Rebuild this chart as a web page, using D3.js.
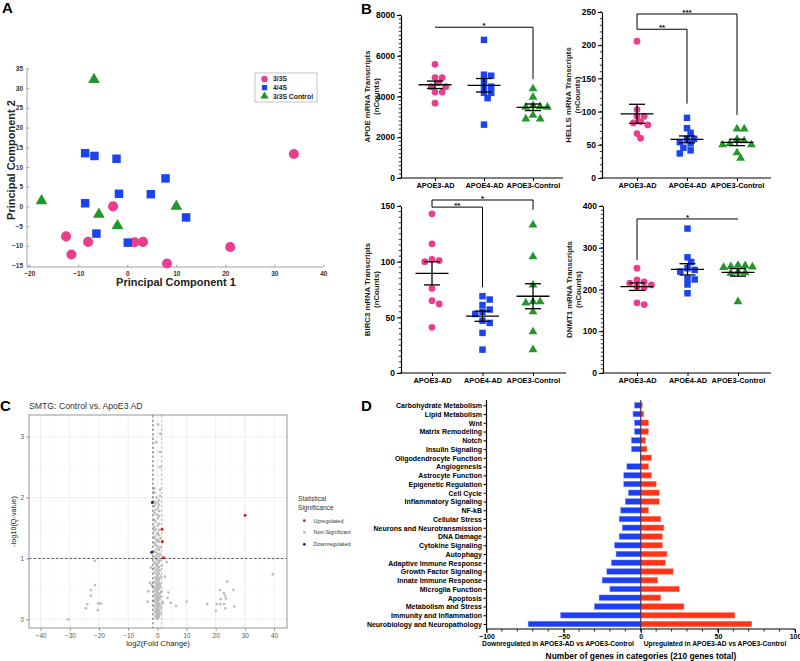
<!DOCTYPE html>
<html><head><meta charset="utf-8">
<script src="https://cdn.jsdelivr.net/npm/d3@7"></script>
<style>body{margin:0;background:#fff}svg{display:block}svg text{-webkit-font-smoothing:antialiased}</style>
</head><body><svg id="c" width="800" height="661"></svg>
<script>
// ================= DATA =================
// Panel A – PCA
const pcaGroups = ["3/3S", "4/4S", "3/3S Control"];
const pcaE3 = [[34,13.3],[-2.9,0],[-12.5,-7.6],[-11.4,-12.2],[-8,-9],[1.5,-9.1],[3.2,-9],[21,-10.3],[8.1,-14.5]];
const pcaE4 = [[-8.6,13.5],[-6.7,12.8],[-2.2,12.1],[7.8,7.1],[-1.7,3.2],[4.8,3.1],[-8.6,0.8],[12,-2.8],[-6.3,-6.9],[0.1,-9.2]];
const pcaCtrl = [[-6.8,32.2],[-17.5,1.4],[-5.8,-2],[10,0],[-2,-4.9]];
const pcaXTicks = [-20,-10,0,10,20,30,40];
const pcaYTicks = [-15,-10,-5,0,5,10,15,20,25,30,35];

// Panel B – dot plots
const groupsB = ["APOE3-AD", "APOE4-AD", "APOE3-Control"];
const apoeE3AD = [5580,4930,4930,4680,4480,4480,4215,4215,3670];
const apoeE4AD = [6780,5070,5020,4775,4480,4480,4180,4180,3920,2620];
const apoeCtrl = [4380,3970,3550,3480,3480,3500,3080,2900,2900];
const hellsE3AD = [206,103,93,93,85,83,80,67,60];
const hellsE4AD = [90.6,75,68,59,59,54,52,45.5,41.6,37];
const hellsCtrl = [74,74,58,56,52,50,50,38,30];
const birc3E3AD = [143,116,102,101,100,76,65,62,41];
const birc3E4AD = [69,66,61,57,55,53,47,45,36,21];
const birc3Ctrl = [133,104.5,79,64,64,63,55,37,21];
const dnmt1E3AD = [251,223,218,215,211,207,204,168,164];
const dnmt1E4AD = [346,277,266,251,247,243,226,224,212,191];
const dnmt1Ctrl = [258,257,255,254,253,242,240,239,171];
const apoeTicks = [0,2000,4000,6000,8000];
const hellsTicks = [0,50,100,150,200,250];
const birc3Ticks = [0,50,100,150];
const dnmt1Ticks = [0,100,200,300,400];

// Panel C – volcano
const volcanoGray = [
 [-21.4,0.96],[-21.4,0.56],[-22.8,0.48],[-22.8,0.39],[-24,0.25],[-24.5,0.18],[-20.3,0.26],[-19.4,0.26],[-20.4,0.15],[-30.6,0.0],
 [24,0.62],[21.5,0.48],[26.1,0.48],[22.8,0.43],[23.2,0.39],[21.7,0.33],[23.5,0.34],[10.1,0.29],[17.1,0.25],[20.4,0.25],[21.6,0.25],[22.9,0.25],[26.4,0.21],[23.3,0.18],[20.1,0.14],[39.6,0.74],
 [-3.1,0.46],[-3.3,0.29],[3.8,0.44],[4.6,0.27],[6.4,0.22],[3.2,0.94],[-1.9,0.56],[2.0,0.27],[3.5,0.35],[-2.5,0.6],[2.6,0.7],[-2.2,0.85],
 [0.1,0.01],[-0.3,0.02],[0.4,0.03],[0.0,0.04],[-0.6,0.05],[0.7,0.06],[0.2,0.07],[-0.1,0.08],[0.5,0.09],[-0.4,0.1],
 [1.0,0.11],[0.1,0.12],[-0.8,0.13],[0.3,0.14],[-0.2,0.15],[0.6,0.16],[-0.5,0.17],[0.0,0.18],[1.3,0.19],[0.4,0.2],[-0.9,0.21],[0.2,0.22],[-0.3,0.23],[0.8,0.24],[-0.1,0.25],[0.5,0.26],[-0.6,0.27],[1.6,0.28],[0.1,0.29],[-1.2,0.3],
 [0.3,0.31],[-0.4,0.32],[0.7,0.33],[0.0,0.34],[-0.7,0.35],[0.4,0.36],[1.1,0.37],[-0.2,0.38],[0.2,0.39],[-1.0,0.4],[0.6,0.41],[-0.5,0.42],[0.9,0.43],[0.1,0.44],[-0.3,0.45],[1.4,0.46],[-0.8,0.47],[0.3,0.48],[-0.1,0.49],[0.5,0.5],[-0.6,0.51],[0.8,0.52],[0.0,0.53],[-1.3,0.54],[0.4,0.55],[-0.2,0.56],[1.0,0.57],[0.2,0.58],[-0.4,0.59],[0.6,0.6],
 [-0.9,0.62],[0.1,0.63],[0.7,0.65],[-0.3,0.66],[0.4,0.68],[-0.6,0.69],[1.2,0.7],[0.0,0.72],[-0.1,0.74],[0.5,0.75],[-0.8,0.77],[0.3,0.78],[0.9,0.8],[-0.4,0.81],[0.2,0.83],[-1.1,0.84],[0.6,0.86],[-0.2,0.87],[1.5,0.88],[0.0,0.9],[-0.5,0.91],[0.4,0.93],[-0.9,0.94],[0.8,0.96],[0.1,0.97],[-0.3,0.99],
 [-1.0,1.02],[0.6,1.03],[-0.2,1.05],[1.0,1.07],[0.2,1.08],[-0.6,1.1],[-1.0,1.12],[0.6,1.14],[-0.2,1.16],[1.0,1.18],[0.2,1.2],[-0.6,1.22],[-1.0,1.25],[0.6,1.27],[-0.2,1.28],[0.2,1.3],[-0.6,1.32],[1.0,1.33],[-1.0,1.36],[0.6,1.38],[-0.2,1.4],[0.2,1.42],[-1.0,1.45],[0.6,1.47],[-0.6,1.48],
 [-1.0,1.52],[0.2,1.54],[0.6,1.57],[-0.6,1.6],[-1.0,1.63],[0.2,1.66],[0.6,1.7],[-0.2,1.72],[-1.0,1.75],[0.6,1.78],[-0.6,1.8],[0.2,1.83],[-1.0,1.86],[0.6,1.88],[-0.6,1.9],[0.2,1.92],[-1.0,1.94],[0.6,1.96],[-0.3,2.0],[0.9,2.03],[-1.0,2.08],[0.9,2.13],[-1.0,2.15],
 [-0.4,2.91],[0.9,2.5],[0.9,2.75],[1.0,3.05],[0.3,3.2]
];
const volcanoUp = [[1.6,1.48],[1.7,1.28],[2.1,1.01],[30.1,1.71]];
const volcanoDown = [[-1.7,1.92],[-1.9,1.1]];
const volcanoXTicks = [-40,-30,-20,-10,0,10,20,30,40];
const volcanoYTicks = [0,1,2,3];
const volcanoLegend = ["Upregulated", "Non-Significant", "Downregulated"];

// Panel D – gene categories
const catD = ["Carbohydrate Metabolism","Lipid Metabolism","Wnt","Matrix Remodeling","Notch","Insulin Signaling",
 "Oligodendrocyte Function","Angiogenesis","Astrocyte Function","Epigenetic Regulation","Cell Cycle","Inflammatory Signaling",
 "NF-kB","Cellular Stress","Neurons and Neurotransmission","DNA Damage","Cytokine Signaling","Autophagy",
 "Adaptive Immune Response","Growth Factor Signaling","Innate Immune Response","Microglia Function","Apoptosis",
 "Metabolism and Stress","Immunity and Inflammation","Neurobiology and Neuropathology"];
const downD = [-4,-5,-4,-4,-6,-6,0,-9,-11,-11,-8,-10,-13,-14,-12,-14,-17,-16,-19,-22,-25,-20,-27,-30,-52,-73];
const upD = [1,2,5,5,3,4,7,5,7,10,12,12,5,13,15,14,14,17,16,21,11,25,13,28,61,72];
const dMajorTicks = [-100,-50,0,50,100];

// ================= DRAW =================
const FONT = "'Liberation Sans', Arial, Helvetica, sans-serif";
const svg = d3.select("#c").style("font-family", FONT);
svg.append("rect").attr("width",800).attr("height",661).attr("fill","#fff");

const PINK = "#ea3d8c", BLUE = "#1b44ec", GREEN = "#24962c";

// Panel letters
[["A",2,13],["B",361,14],["C",0,411],["D",361,411]].forEach(([t,x,y])=>{
  svg.append("text").attr("x",x).attr("y",y).text(t).attr("font-size",15).attr("font-weight","bold").attr("fill","#000");
});

// ---------- Panel A ----------
(function(){
  const g = svg.append("g");
  const x = d3.scaleLinear().domain([-20,40]).range([29.3,323.3]);
  const y = d3.scaleLinear().domain([-15,35]).range([265.5,68.5]);
  const axCol = "#8a8a8a";
  g.append("line").attr("x1",27).attr("x2",323.3).attr("y1",267).attr("y2",267).attr("stroke",axCol).attr("stroke-width",0.8);
  g.append("line").attr("x1",27).attr("x2",27).attr("y1",267).attr("y2",y(35)).attr("stroke",axCol).attr("stroke-width",0.8);
  const xa = g.append("g").attr("transform","translate(0,267)")
    .call(d3.axisBottom(x).tickValues(pcaXTicks).tickSize(-2.5).tickSizeOuter(0).tickPadding(4));
  const ya = g.append("g").attr("transform","translate(27,0)")
    .call(d3.axisLeft(y).tickValues(pcaYTicks).tickSize(-2.5).tickSizeOuter(0).tickPadding(4));
  [xa,ya].forEach(a=>{
    a.select(".domain").remove();
    a.selectAll(".tick line").attr("stroke",axCol).attr("stroke-width",0.7);
    a.selectAll(".tick text").attr("font-size",6.5).attr("font-weight","bold").attr("fill","#333").style("fill","#333").attr("font-family",FONT);
  });
  g.append("text").attr("x",176).attr("y",286).attr("text-anchor","middle").attr("font-size",11)
    .attr("font-weight","bold").attr("fill","#222").text("Principal Component 1");
  g.append("text").attr("transform","translate(15,160) rotate(-90)").attr("text-anchor","middle").attr("font-size",11)
    .attr("font-weight","bold").attr("fill","#222").text("Principal Component 2");
  const sym = [d3.symbolCircle, d3.symbolSquare, d3.symbolTriangle];
  const sizes = [80, 72, 60];
  const cols = [PINK, BLUE, GREEN];
  [pcaE3, pcaE4, pcaCtrl].forEach((arr,i)=>{
    g.selectAll(null).data(arr).enter().append("path")
      .attr("d", d3.symbol().type(sym[i]).size(sizes[i]))
      .attr("transform", d=>`translate(${x(d[0])},${y(d[1])})`)
      .attr("fill", cols[i]);
  });
  // legend
  const lg = g.append("g");
  lg.append("rect").attr("x",255).attr("y",73).attr("width",62).attr("height",29).attr("fill","#fff").attr("stroke","#999").attr("stroke-width",0.6);
  pcaGroups.forEach((name,i)=>{
    const yy = 79 + i*8.6;
    lg.append("path").attr("d", d3.symbol().type(sym[i]).size([34,28,30][i])).attr("transform",`translate(264.5,${yy})`).attr("fill",cols[i]);
    lg.append("text").attr("x",273).attr("y",yy).attr("dy","0.35em").attr("font-size",6.8).attr("font-weight","bold").attr("fill","#222").text(name);
  });
})();

// ---------- Panel B ----------
function beeswarm(vals, yS, cx, minDist, step){
  const order = vals.map((v,i)=>i).sort((a,b)=>vals[b]-vals[a]);
  const placed = [], res = new Array(vals.length);
  order.forEach(i=>{
    const py = yS(vals[i]);
    for(let k=0;k<80;k++){
      const off = k===0 ? 0 : (k%2===1?1:-1)*Math.ceil(k/2)*step;
      if(placed.every(p=>Math.hypot(p[0]-off,p[1]-py) >= minDist)){ placed.push([off,py]); res[i]=[cx+off,py]; break; }
    }
  });
  return res;
}
function drawDot(cfg){
  const g = svg.append("g");
  const y = d3.scaleLinear().domain([0,cfg.max]).range([cfg.bottom, cfg.top]);
  const x = d3.scalePoint().domain(groupsB).range([cfg.c0, cfg.c2]);
  // minor ticks
  g.selectAll(null).data(d3.range(0, cfg.max+1e-9, cfg.minor)).enter().append("line")
    .attr("x1",cfg.left-2.2).attr("x2",cfg.left).attr("y1",d=>y(d)).attr("y2",d=>y(d)).attr("stroke","#000").attr("stroke-width",0.8);
  const ya = g.append("g").attr("transform",`translate(${cfg.left},0)`)
    .call(d3.axisLeft(y).tickValues(cfg.ticks).tickFormat(d3.format("d")).tickSize(4).tickSizeOuter(0).tickPadding(2));
  ya.select(".domain").attr("stroke","#000").attr("stroke-width",1.2);
  ya.selectAll(".tick line").attr("stroke-width",1);
  ya.selectAll(".tick text").attr("font-size",8.5).attr("font-weight","bold").style("fill","#000").attr("font-family",FONT);
  // x axis
  g.append("line").attr("x1",cfg.left).attr("x2",cfg.right).attr("y1",cfg.bottom).attr("y2",cfg.bottom).attr("stroke","#000").attr("stroke-width",1.2);
  const xa = g.append("g").attr("transform",`translate(0,${cfg.bottom})`)
    .call(d3.axisBottom(x).tickSize(3).tickSizeOuter(0).tickPadding(2));
  xa.select(".domain").remove();
  xa.selectAll(".tick line").attr("stroke-width",1);
  xa.selectAll(".tick text").attr("font-size",7.4).attr("font-weight","bold").style("fill","#000").attr("font-family",FONT);
  // y label
  g.append("text").attr("transform",`translate(${cfg.left-31},${(cfg.top+cfg.bottom)/2}) rotate(-90)`)
    .attr("text-anchor","middle").attr("font-size",7.8).attr("font-weight","bold").attr("fill","#222").text(cfg.gene + " mRNA Transcripts");
  g.append("text").attr("transform",`translate(${cfg.left-22},${(cfg.top+cfg.bottom)/2}) rotate(-90)`)
    .attr("text-anchor","middle").attr("font-size",7.8).attr("font-weight","bold").attr("fill","#222").text("(nCounts)");
  // points
  const sym = [d3.symbolCircle, d3.symbolSquare, d3.symbolTriangle];
  const sizes = [36, 42, 34];
  const cols = [PINK, BLUE, GREEN];
  cfg.data.forEach((vals,i)=>{
    const pos = beeswarm(vals, y, x(groupsB[i]), 5.8, 3.6);
    g.selectAll(null).data(pos).enter().append("path")
      .attr("d", d3.symbol().type(sym[i]).size(sizes[i]))
      .attr("transform", d=>`translate(${d[0]},${d[1]})`).attr("fill", cols[i]);
  });
  // mean ± SEM
  cfg.data.forEach((vals,i)=>{
    const m = d3.mean(vals), se = d3.deviation(vals)/Math.sqrt(vals.length), cx = x(groupsB[i]);
    g.append("line").attr("x1",cx-16.5).attr("x2",cx+16.5).attr("y1",y(m)).attr("y2",y(m)).attr("stroke","#000").attr("stroke-width",1.3);
    g.append("line").attr("x1",cx).attr("x2",cx).attr("y1",y(m-se)).attr("y2",y(m+se)).attr("stroke","#000").attr("stroke-width",1.3);
    [m-se,m+se].forEach(v=>g.append("line").attr("x1",cx-8).attr("x2",cx+8).attr("y1",y(v)).attr("y2",y(v)).attr("stroke","#000").attr("stroke-width",1.3));
  });
  // brackets
  cfg.brackets.forEach(b=>{
    const xa_ = x(groupsB[b.a]), xb = x(groupsB[b.b]);
    let p = "";
    if(b.left!=null) p += `M${xa_},${y(b.left)}V${y(b.line)}`; else p += `M${xa_},${y(b.line)}`;
    p += `H${xb}`;
    if(b.right!=null) p += `V${y(b.right)}`;
    g.append("path").attr("d",p).attr("fill","none").attr("stroke","#000").attr("stroke-width",1);
    g.append("text").attr("x",(xa_+xb)/2).attr("y",y(b.line)+1).attr("text-anchor","middle")
      .attr("font-size",8).attr("font-weight","bold").attr("fill","#000").text(b.label);
  });
}
drawDot({gene:"APOE", data:[apoeE3AD,apoeE4AD,apoeCtrl], max:8000, ticks:apoeTicks, minor:200,
  left:401, right:563, top:15, bottom:178, c0:435, c2:533,
  brackets:[{a:0,b:2,line:7400,left:null,right:4850,label:"*"}]});
drawDot({gene:"HELLS", data:[hellsE3AD,hellsE4AD,hellsCtrl], max:250, ticks:hellsTicks, minor:10,
  left:602, right:771, top:12, bottom:178, c0:637, c2:737,
  brackets:[{a:0,b:2,line:247,left:224,right:95,label:"***"},{a:0,b:1,line:224,left:null,right:112,label:"**"}]});
drawDot({gene:"BIRC3", data:[birc3E3AD,birc3E4AD,birc3Ctrl], max:150, ticks:birc3Ticks, minor:5,
  left:401, right:566, top:206, bottom:373, c0:432, c2:533,
  brackets:[{a:0,b:2,line:155.4,left:149,right:146.5,label:"*"},{a:0,b:1,line:149,left:null,right:77,label:"**"}]});
drawDot({gene:"DNMT1", data:[dnmt1E3AD,dnmt1E4AD,dnmt1Ctrl], max:400, ticks:dnmt1Ticks, minor:10,
  left:603, right:771, top:206, bottom:373, c0:637, c2:738,
  brackets:[{a:0,b:2,line:369,left:270,right:null,label:"*"}]});

// ---------- Panel C ----------
(function(){
  const g = svg.append("g");
  const L=29,R=287,T=415,B=628;
  const x = d3.scaleLinear().domain([-44.0,44.46]).range([L,R]);
  const y = d3.scaleLinear().domain([-0.143,3.357]).range([B,T]);
  // minor grid
  [-35,-25,-15,-5,5,15,25,35].forEach(v=>g.append("line").attr("x1",x(v)).attr("x2",x(v)).attr("y1",T).attr("y2",B).attr("stroke","#f3f3f3").attr("stroke-width",0.5));
  [0.5,1.5,2.5].forEach(v=>g.append("line").attr("x1",L).attr("x2",R).attr("y1",y(v)).attr("y2",y(v)).attr("stroke","#f3f3f3").attr("stroke-width",0.5));
  volcanoXTicks.forEach(v=>g.append("line").attr("x1",x(v)).attr("x2",x(v)).attr("y1",T).attr("y2",B).attr("stroke","#e6e6e6").attr("stroke-width",0.7));
  volcanoYTicks.forEach(v=>g.append("line").attr("x1",L).attr("x2",R).attr("y1",y(v)).attr("y2",y(v)).attr("stroke","#e6e6e6").attr("stroke-width",0.7));
  // points
  g.selectAll(null).data(volcanoGray).enter().append("circle").attr("cx",d=>x(d[0])).attr("cy",d=>y(d[1])).attr("r",1.35).attr("fill","#bcbcbc");
  // threshold lines
  g.append("line").attr("x1",x(-1.5)).attr("x2",x(-1.5)).attr("y1",T).attr("y2",B).attr("stroke","#333").attr("stroke-width",0.8).attr("stroke-dasharray","2.5,2");
  g.append("line").attr("x1",x(1.5)).attr("x2",x(1.5)).attr("y1",T).attr("y2",B).attr("stroke","#9a9a9a").attr("stroke-width",0.8).attr("stroke-dasharray","2.5,2");
  g.append("line").attr("x1",L).attr("x2",R).attr("y1",y(1)).attr("y2",y(1)).attr("stroke","#333").attr("stroke-width",0.8).attr("stroke-dasharray","2.5,2");
  g.selectAll(null).data(volcanoUp).enter().append("circle").attr("cx",d=>x(d[0])).attr("cy",d=>y(d[1])).attr("r",1.5).attr("fill","#d7191c");
  g.selectAll(null).data(volcanoDown).enter().append("circle").attr("cx",d=>x(d[0])).attr("cy",d=>y(d[1])).attr("r",1.5).attr("fill","#1d1d8f");
  // border
  g.append("rect").attr("x",L).attr("y",T).attr("width",R-L).attr("height",B-T).attr("fill","none").attr("stroke","#8c8c8c").attr("stroke-width",0.9);
  // axes
  const xa = g.append("g").attr("transform",`translate(0,${B})`).call(d3.axisBottom(x).tickValues(volcanoXTicks).tickFormat(d3.format("d")).tickSize(3).tickPadding(2.5));
  const ya = g.append("g").attr("transform",`translate(${L},0)`).call(d3.axisLeft(y).tickValues(volcanoYTicks).tickFormat(d3.format("d")).tickSize(3).tickPadding(2));
  [xa,ya].forEach(a=>{
    a.select(".domain").remove();
    a.selectAll(".tick line").attr("stroke","#444").attr("stroke-width",0.5);
    a.selectAll(".tick text").attr("font-size",6.4).style("fill","#555").attr("font-family",FONT);
  });
  g.append("text").attr("x",(L+R)/2).attr("y",646).attr("text-anchor","middle").attr("font-size",7.7).attr("fill","#222").text("log2(Fold Change)");
  g.append("text").attr("transform",`translate(16,${(T+B)/2}) rotate(-90)`).attr("text-anchor","middle").attr("font-size",7.3).attr("fill","#222").text("-log10(Q-value)");
  g.append("text").attr("x",29).attr("y",409).attr("font-size",8.7).attr("fill","#333").text("SMTG: Control vs. ApoE3 AD");
  // legend
  g.append("text").attr("x",298).attr("y",501).attr("font-size",6.6).attr("fill","#333").text("Statistical");
  g.append("text").attr("x",298).attr("y",509.5).attr("font-size",6.6).attr("fill","#333").text("Significance");
  const lc = ["#d7191c","#bcbcbc","#1d1d8f"];
  volcanoLegend.forEach((t,i)=>{
    const yy = 520.7 + i*11.8;
    g.append("circle").attr("cx",304.3).attr("cy",yy).attr("r",1.4).attr("fill",lc[i]);
    g.append("text").attr("x",313.5).attr("y",yy).attr("dy","0.35em").attr("font-size",5.5).attr("fill","#333").text(t);
  });
})();

// ---------- Panel D ----------
(function(){
  const g = svg.append("g");
  const x = d3.scaleLinear().domain([-100,100]).range([486.5,795]);
  const y = d3.scalePoint().domain(catD).range([405.3,624]);
  const bh = 5.6;
  g.selectAll(null).data(catD).enter().append("rect")
    .attr("x",(d,i)=>x(downD[i])).attr("width",(d,i)=>x(0)-x(downD[i]))
    .attr("y",d=>y(d)-bh/2).attr("height",bh).attr("fill","#1c3ff2").attr("stroke","#7b8ff7").attr("stroke-width",0.5);
  g.selectAll(null).data(catD).enter().append("rect")
    .attr("x",x(0)).attr("width",(d,i)=>x(upD[i])-x(0))
    .attr("y",d=>y(d)-bh/2).attr("height",bh).attr("fill","#ff3519").attr("stroke","#ff8a78").attr("stroke-width",0.5);
  g.append("line").attr("x1",x(0)).attr("x2",x(0)).attr("y1",400).attr("y2",629).attr("stroke","#1e1e5a").attr("stroke-width",1);
  // y axis
  g.append("line").attr("x1",486.5).attr("x2",486.5).attr("y1",400).attr("y2",629).attr("stroke","#000").attr("stroke-width",1.2);
  const ya = g.append("g").attr("transform","translate(486.5,0)").call(d3.axisLeft(y).tickSize(3).tickPadding(1.5));
  ya.select(".domain").remove();
  ya.selectAll(".tick line").attr("stroke","#000").attr("stroke-width",1);
  ya.selectAll(".tick text").attr("font-size",7).attr("font-weight","bold").style("fill","#000").attr("font-family",FONT);
  // x axis
  g.append("line").attr("x1",486.5).attr("x2",795).attr("y1",629).attr("y2",629).attr("stroke","#000").attr("stroke-width",1.2);
  g.selectAll(null).data(d3.range(-100,101,10)).enter().append("line")
    .attr("x1",d=>x(d)).attr("x2",d=>x(d)).attr("y1",629).attr("y2",631.5).attr("stroke","#000").attr("stroke-width",0.9);
  const xa = g.append("g").attr("transform","translate(0,629)").call(d3.axisBottom(x).tickValues(dMajorTicks).tickSize(4).tickPadding(1));
  xa.select(".domain").remove();
  xa.selectAll(".tick line").attr("stroke-width",1);
  xa.selectAll(".tick text").attr("font-size",7).attr("font-weight","bold").style("fill","#000").attr("font-family",FONT);
  g.append("text").attr("x",558).attr("y",646).attr("text-anchor","middle").attr("font-size",6.7).attr("font-weight","bold").attr("fill","#000").text("Downregulated in APOE3-AD vs APOE3-Control");
  g.append("text").attr("x",715).attr("y",646).attr("text-anchor","middle").attr("font-size",6.7).attr("font-weight","bold").attr("fill","#000").text("Upregulated in APOE3-AD vs APOE3-Control");
  g.append("text").attr("x",641).attr("y",659).attr("text-anchor","middle").attr("font-size",8.4).attr("font-weight","bold").attr("fill","#000").text("Number of genes in categories (210 genes total)");
})();
</script></body></html>
